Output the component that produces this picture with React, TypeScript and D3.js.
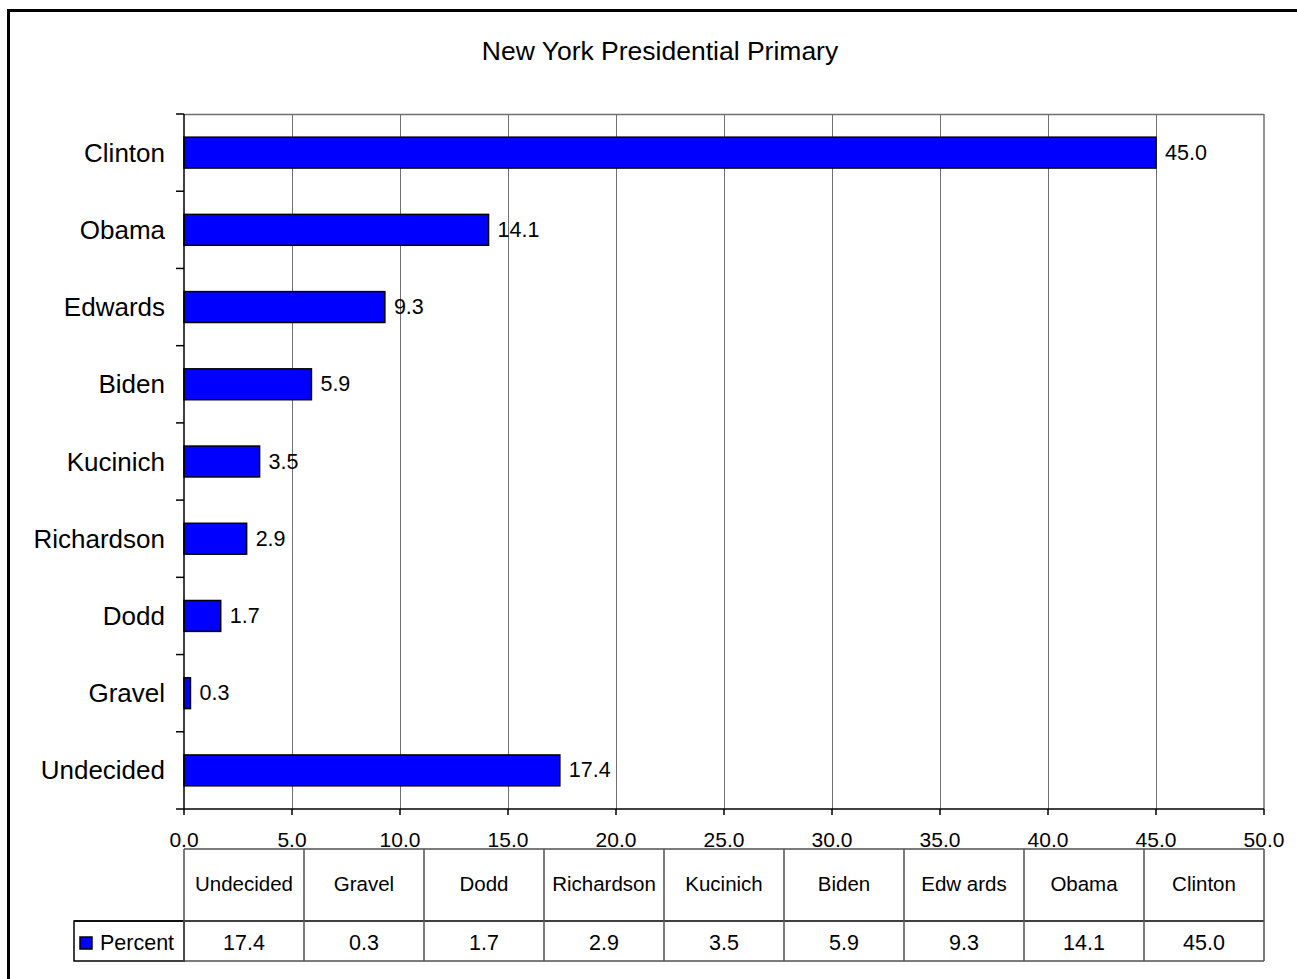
import React from "react";
import * as d3 from "d3";

const categories = ["Clinton", "Obama", "Edwards", "Biden", "Kucinich", "Richardson", "Dodd", "Gravel", "Undecided"];
const values = [45.0, 14.1, 9.3, 5.9, 3.5, 2.9, 1.7, 0.3, 17.4];
const tableLabels = ["Undecided", "Gravel", "Dodd", "Richardson", "Kucinich", "Biden", "Edw ards", "Obama", "Clinton"];
const tableValues = [17.4, 0.3, 1.7, 2.9, 3.5, 5.9, 9.3, 14.1, 45.0];
const xTicks = [0, 5, 10, 15, 20, 25, 30, 35, 40, 45, 50];
const title = "New York Presidential Primary";
const seriesName = "Percent";

const W = 1297;
const H = 979;
const FONT = "'Liberation Sans', Arial, sans-serif";
const left = 184;
const right = 1264;
const top = 114;
const bottom = 809;
const tTop = 849;
const tMid = 921;
const tBot = 961;
const legendLeft = 74;
const BLUE = "#0000FF";
const GRID = "#707070";
const TLINE = "#505050";

export default function App() {
  const x = d3.scaleLinear().domain([0, 50]).range([left, right]);
  const y = d3.scaleBand<string>().domain(categories).range([top, bottom]).padding(0);
  const step = y.step();
  const barH = step * 0.4;
  const fmt = d3.format(".1f");
  const colX = d3.scaleBand<string>().domain(tableLabels).range([left, right]).padding(0);
  const bandEdges = d3.range(categories.length + 1).map((i) => top + i * step);

  return (
    <svg
      width={W}
      height={H}
      style={{ position: "absolute", left: 0, top: 0, background: "#fff" }}
      fontFamily={FONT}
    >
      <rect x={0} y={0} width={W} height={H} fill="#fff" />
      <rect x={8.5} y={10.5} width={W + 20} height={H + 20} fill="none" stroke="#000" strokeWidth={3} />
      <text x={660} y={60} textAnchor="middle" fontSize={26.5} fill="#000">{title}</text>

      {/* gridlines */}
      {xTicks.slice(1, -1).map((t) => (
        <line key={"g" + t} x1={x(t) + 0.5} x2={x(t) + 0.5} y1={top} y2={bottom} stroke={GRID} strokeWidth={1} />
      ))}
      <line x1={left} x2={right} y1={top + 0.5} y2={top + 0.5} stroke={GRID} strokeWidth={1.5} />
      <line x1={right} x2={right} y1={top} y2={bottom} stroke={GRID} strokeWidth={1.5} />

      {/* bars */}
      {categories.map((c, i) => {
        const yc = (y(c) as number) + step / 2;
        return (
          <g key={c}>
            <rect
              x={x(0)}
              y={yc - barH / 2}
              width={x(values[i]) - x(0)}
              height={barH}
              fill={BLUE}
              stroke="#000"
              strokeWidth={1.5}
            />
            <text x={x(values[i]) + 9} y={yc} dominantBaseline="central" fontSize={21.5} fill="#000">
              {fmt(values[i])}
            </text>
            <text x={165} y={yc} textAnchor="end" dominantBaseline="central" fontSize={26} fill="#000">
              {c}
            </text>
          </g>
        );
      })}

      {/* y axis */}
      <line x1={left} x2={left} y1={top} y2={bottom} stroke="#000" strokeWidth={1.5} />
      {bandEdges.map((e, i) => (
        <line key={"yt" + i} x1={176} x2={left} y1={e} y2={e} stroke="#000" strokeWidth={1.5} />
      ))}

      {/* x axis */}
      <line x1={left} x2={right} y1={bottom} y2={bottom} stroke="#000" strokeWidth={1.5} />
      {xTicks.map((t) => (
        <g key={"xt" + t}>
          <line x1={x(t)} x2={x(t)} y1={bottom} y2={815} stroke="#000" strokeWidth={1.5} />
          <text x={x(t)} y={847} textAnchor="middle" fontSize={21} fill="#000">{fmt(t)}</text>
        </g>
      ))}

      {/* data table */}
      <line x1={left} x2={right} y1={tTop} y2={tTop} stroke={TLINE} strokeWidth={1.5} />
      <line x1={legendLeft} x2={right} y1={tMid} y2={tMid} stroke="#000" strokeWidth={1.5} />
      <line x1={left} x2={right} y1={tBot} y2={tBot} stroke={TLINE} strokeWidth={1.5} />
      <rect x={legendLeft} y={tMid} width={left - legendLeft} height={tBot - tMid} fill="none" stroke="#000" strokeWidth={1.5} />
      {tableLabels.map((lab, i) => {
        const x0 = colX(lab) as number;
        const cx = x0 + colX.bandwidth() / 2;
        return (
          <g key={"tc" + lab}>
            <line x1={x0} x2={x0} y1={tTop} y2={tBot} stroke={TLINE} strokeWidth={1.5} />
            <text x={cx} y={883} textAnchor="middle" dominantBaseline="central" fontSize={20.5} fill="#000">{lab}</text>
            <text x={cx} y={943} textAnchor="middle" dominantBaseline="central" fontSize={21.5} fill="#000">{fmt(tableValues[i])}</text>
          </g>
        );
      })}
      <line x1={right} x2={right} y1={tTop} y2={tBot} stroke={TLINE} strokeWidth={1.5} />
      <rect x={80} y={937} width={12} height={12} fill={BLUE} stroke="#000" strokeWidth={1.5} />
      <text x={100} y={943} dominantBaseline="central" fontSize={21.5} fill="#000">{seriesName}</text>
    </svg>
  );
}
